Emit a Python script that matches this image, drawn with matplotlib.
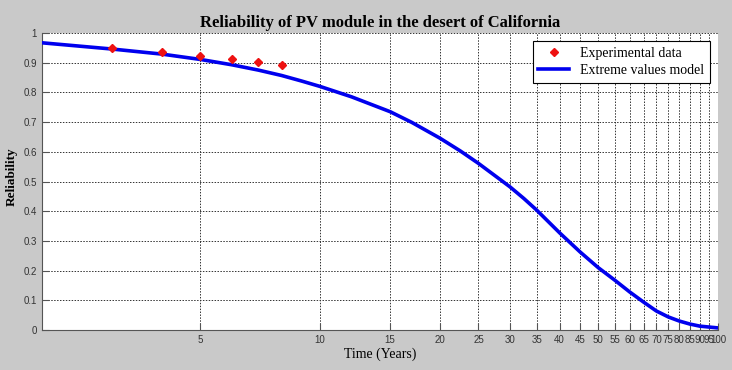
import numpy as np
import matplotlib
matplotlib.use('Agg')
import matplotlib.pyplot as plt
from matplotlib.ticker import FixedLocator, NullLocator

# experimental reliability points
exp_years = [3, 4, 5, 6, 7, 8]
exp_rel = [0.948, 0.935, 0.924, 0.914, 0.901, 0.891]

# extreme values model curve
model_years = [2, 3, 4, 5, 6, 7, 8, 9, 10, 12, 15, 17, 20, 22.5, 25, 30,
               32.5, 35, 40, 45, 50, 55, 60, 65, 70, 75, 80, 85, 90, 100]
model_rel = [0.967, 0.946, 0.929, 0.911, 0.893, 0.875, 0.857, 0.838, 0.82,
             0.785, 0.735, 0.699, 0.646, 0.603, 0.561, 0.482, 0.443, 0.404,
             0.327, 0.263, 0.21, 0.168, 0.128, 0.094, 0.064, 0.044, 0.030,
             0.020, 0.013, 0.007]

x_ticks = [5, 10, 15, 20, 25, 30, 35, 40, 45, 50, 55, 60, 65, 70, 75, 80,
           85, 90, 95, 100]
y_ticks = [0, 0.1, 0.2, 0.3, 0.4, 0.5, 0.6, 0.7, 0.8, 0.9, 1]
y_labels = ['0', '0.1', '0.2', '0.3', '0.4', '0.5', '0.6', '0.7', '0.8', '0.9', '1']

serif = 'Liberation Serif'
sans = 'Liberation Sans'

fig = plt.figure(figsize=(7.32, 3.70), dpi=100, facecolor='#c9c9c9')
ax = fig.add_axes([42 / 732, 40 / 370, 676 / 732, 297 / 370])
ax.set_facecolor('white')

ax.plot(model_years, model_rel, color='#0000ee', lw=2.6,
        label='Extreme values model', zorder=3)
ax.plot(exp_years, exp_rel, linestyle='none', marker='D', markersize=4,
        color='#ee1111', label='Experimental data', zorder=4)

ax.set_xscale('log')
ax.set_xlim(2, 100)
ax.set_ylim(0, 1)
ax.xaxis.set_major_locator(FixedLocator(x_ticks))
ax.xaxis.set_minor_locator(NullLocator())
ax.set_xticklabels([str(t) for t in x_ticks])
ax.set_yticks(y_ticks)
ax.set_yticklabels(y_labels)
ax.tick_params(direction='in', length=5, width=0.8, colors='#555555',
               labelsize=7, labelcolor='#333333')
for lab in ax.get_xticklabels() + ax.get_yticklabels():
    lab.set_family(sans)

ax.grid(True, which='major', linestyle=(0, (1.5, 1.5)), color='#333333', lw=0.7)
ax.spines['top'].set_visible(False)
ax.spines['right'].set_visible(False)
ax.spines['left'].set_color('#555555')
ax.spines['bottom'].set_color('#555555')

ax.set_title('Reliability of PV module in the desert of California',
             family=serif, fontsize=12, fontweight='bold', pad=4)
ax.set_xlabel('Time (Years)', family=serif, fontsize=10, labelpad=2)
ax.set_ylabel('Reliability', family=serif, fontsize=9.5, fontweight='bold')
ax.yaxis.set_label_coords(-0.036, 0.515)

h, l = ax.get_legend_handles_labels()
leg = ax.legend([h[1], h[0]], [l[1], l[0]], loc='upper right',
                prop={'family': serif, 'size': 10}, fancybox=False,
                framealpha=1, edgecolor='black', borderaxespad=0.6,
                handlelength=2.2, borderpad=0.4, labelspacing=0.3)
leg.get_frame().set_linewidth(0.8)

fig.savefig('out.png', dpi=100, facecolor=fig.get_facecolor())
